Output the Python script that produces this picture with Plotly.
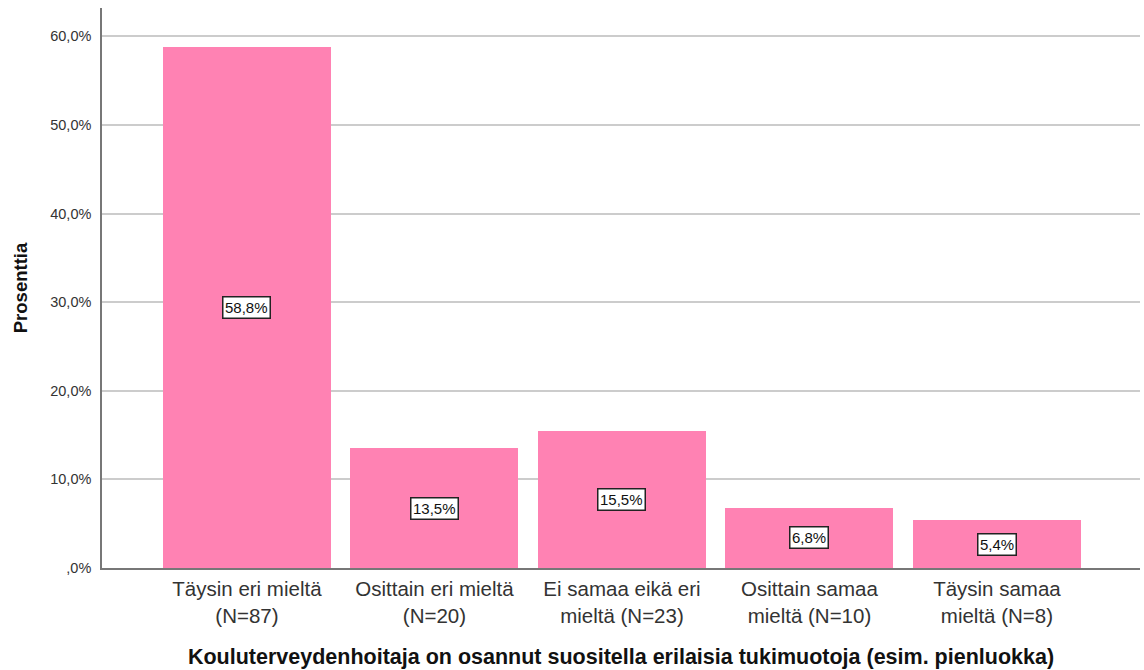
import plotly.graph_objects as go

# Survey responses: share of respondents per answer category
categories = [
    "Täysin eri mieltä",
    "Osittain eri mieltä",
    "Ei samaa eikä eri mieltä",
    "Osittain samaa mieltä",
    "Täysin samaa mieltä",
]
tick_labels = [
    "Täysin eri mieltä<br>(N=87)",
    "Osittain eri mieltä<br>(N=20)",
    "Ei samaa eikä eri<br>mieltä (N=23)",
    "Osittain samaa<br>mieltä (N=10)",
    "Täysin samaa<br>mieltä (N=8)",
]
counts = [87, 20, 23, 10, 8]
percents = [58.8, 13.5, 15.5, 6.8, 5.4]

y_tickvals = [0, 10, 20, 30, 40, 50, 60]
y_ticktext = [",0%", "10,0%", "20,0%", "30,0%", "40,0%", "50,0%", "60,0%"]

x_idx = list(range(len(categories)))

fig = go.Figure()
fig.add_trace(go.Bar(
    x=x_idx,
    y=percents,
    width=0.896,
    marker=dict(color="#FF82B3", line=dict(width=0)),
    hovertext=categories,
    showlegend=False,
))

# Value labels in white boxes at the middle of each bar
for i, p in zip(x_idx, percents):
    fig.add_annotation(
        x=i, y=p / 2,
        text=f"{p:.1f}%".replace(".", ","),
        showarrow=False,
        font=dict(family="Arial, Liberation Sans, sans-serif", size=15, color="#111"),
        bgcolor="white",
        bordercolor="#222",
        borderwidth=1.5,
        borderpad=1.5,
    )

fig.update_layout(
    width=1144, height=670,
    margin=dict(l=102, r=4, t=8, b=102),
    plot_bgcolor="white",
    paper_bgcolor="white",
    font=dict(family="Arial, Liberation Sans, sans-serif", color="#222"),
    bargap=0,
    xaxis=dict(
        range=[-0.773, 4.763],
        tickvals=x_idx,
        ticktext=tick_labels,
        tickfont=dict(size=20.5, color="#333"),
        showgrid=False,
        showline=True,
        linecolor="#777",
        linewidth=1.5,
        ticks="",
        ticklabelstandoff=2,
        zeroline=False,
        title=dict(
            text="<b>Kouluterveydenhoitaja on osannut suositella erilaisia tukimuotoja (esim. pienluokka)</b>",
            font=dict(size=21.5, color="#111"),
            standoff=23,
        ),
    ),
    yaxis=dict(
        range=[0, 63.2],
        tickvals=y_tickvals,
        ticktext=y_ticktext,
        tickfont=dict(size=14.5, color="#333"),
        showgrid=True,
        gridcolor="#CCCCCC",
        gridwidth=2,
        showline=True,
        linecolor="#777",
        linewidth=1.5,
        ticks="",
        ticklabelstandoff=6,
        zeroline=False,
        title=dict(
            text="<b>Prosenttia</b>",
            font=dict(size=18.5, color="#111"),
            standoff=18,
        ),
    ),
)

fig.write_html("out.html")
